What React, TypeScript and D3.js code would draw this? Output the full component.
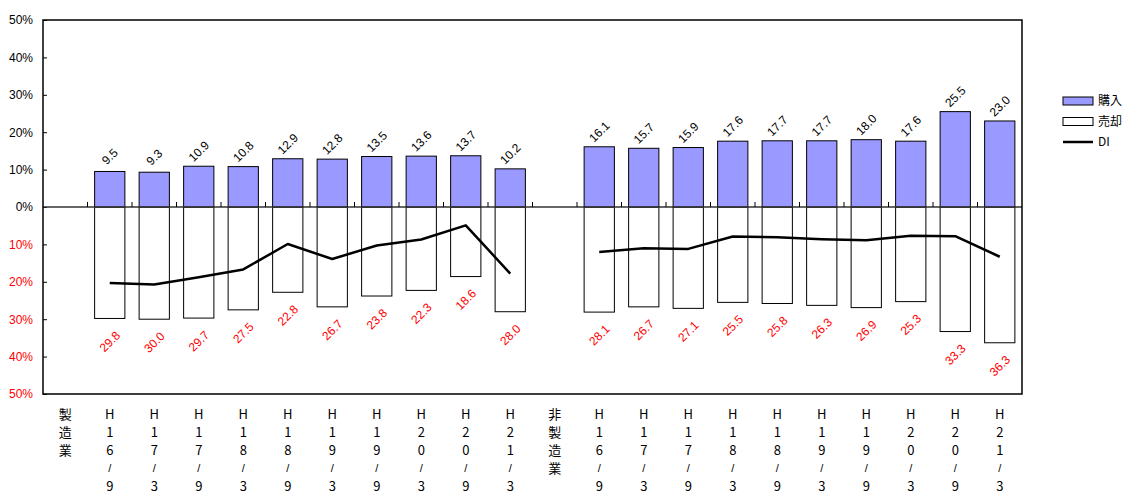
import React, { useEffect, useRef } from "react";
import * as d3 from "d3";

// 区分
const groups = ["製造業", "非製造業"];
const periods = ["H16/9", "H17/3", "H17/9", "H18/3", "H18/9", "H19/3", "H19/9", "H20/3", "H20/9", "H21/3"];

// 購入・売却・DI（％）
const buyMfg = [9.5, 9.3, 10.9, 10.8, 12.9, 12.8, 13.5, 13.6, 13.7, 10.2];
const sellMfg = [29.8, 30.0, 29.7, 27.5, 22.8, 26.7, 23.8, 22.3, 18.6, 28.0];
const diMfg = [-20.3, -20.7, -18.8, -16.7, -9.9, -13.9, -10.3, -8.7, -4.9, -17.8];
const buyNon = [16.1, 15.7, 15.9, 17.6, 17.7, 17.7, 18.0, 17.6, 25.5, 23.0];
const sellNon = [28.1, 26.7, 27.1, 25.5, 25.8, 26.3, 26.9, 25.3, 33.3, 36.3];
const diNon = [-12.0, -11.0, -11.2, -7.9, -8.1, -8.6, -8.9, -7.7, -7.8, -13.3];

const yTicks = [50, 40, 30, 20, 10, 0, -10, -20, -30, -40, -50];

const legendItems = ["購入", "売却", "DI"];

const seriesByGroup = [
  { buy: buyMfg, sell: sellMfg, di: diMfg },
  { buy: buyNon, sell: sellNon, di: diNon },
];

function App() {
  const svgRef = useRef(null);
  const width = 1128;
  const height = 495;
  const plot = { left: 43, right: 1022, top: 20, bottom: 394 };
  const font = "'Liberation Sans', Arial, sans-serif";
  const jpFont = "'Noto Sans CJK JP', sans-serif";

  useEffect(() => {
    const svg = d3.select(svgRef.current);
    svg.selectAll("*").remove();

    // slots: group label, then its periods
    const slots = [];
    groups.forEach((g, gi) => {
      slots.push({ key: g, label: g, group: gi, bar: -1 });
      periods.forEach((p, pi) => {
        slots.push({ key: `${g}-${p}`, label: p, group: gi, bar: pi });
      });
    });

    const x = d3
      .scaleBand()
      .domain(slots.map((s) => s.key))
      .range([plot.left, plot.right])
      .paddingInner(0.32)
      .paddingOuter(0.16);
    const y = d3.scaleLinear().domain([-50, 50]).range([plot.bottom, plot.top]);
    const cx = (key) => x(key) + x.bandwidth() / 2;

    // y axis
    const yAxis = svg
      .append("g")
      .attr("transform", `translate(${plot.left},0)`)
      .call(d3.axisLeft(y).tickValues(yTicks).tickSize(-4).tickPadding(10).tickFormat((d) => `${Math.abs(d)}%`));
    yAxis.select(".domain").remove();
    yAxis.selectAll("line").attr("stroke", "#000");
    yAxis
      .selectAll("text")
      .attr("font-family", font)
      .attr("font-size", 12)
      .attr("fill", (d) => (d < 0 ? "#FF0000" : "#000"));

    const bars = slots.filter((s) => s.bar >= 0);

    // 売却 bars (below zero)
    svg
      .append("g")
      .selectAll("rect")
      .data(bars)
      .join("rect")
      .attr("x", (s) => x(s.key))
      .attr("y", y(0))
      .attr("width", x.bandwidth())
      .attr("height", (s) => y(-seriesByGroup[s.group].sell[s.bar]) - y(0))
      .attr("fill", "#fff")
      .attr("stroke", "#000")
      .attr("stroke-width", 1);

    // 購入 bars
    svg
      .append("g")
      .selectAll("rect")
      .data(bars)
      .join("rect")
      .attr("x", (s) => x(s.key))
      .attr("y", (s) => y(seriesByGroup[s.group].buy[s.bar]))
      .attr("width", x.bandwidth())
      .attr("height", (s) => y(0) - y(seriesByGroup[s.group].buy[s.bar]))
      .attr("fill", "#9999FF")
      .attr("stroke", "#000")
      .attr("stroke-width", 1);

    // zero line + slot ticks
    svg
      .append("line")
      .attr("x1", plot.left)
      .attr("x2", plot.right)
      .attr("y1", y(0))
      .attr("y2", y(0))
      .attr("stroke", "#333")
      .attr("stroke-width", 1.5);
    svg
      .append("g")
      .selectAll("line")
      .data(slots.slice(1))
      .join("line")
      .attr("x1", (s) => x(s.key) - (x.step() * x.paddingInner()) / 2)
      .attr("x2", (s) => x(s.key) - (x.step() * x.paddingInner()) / 2)
      .attr("y1", y(0))
      .attr("y2", y(0) - 5)
      .attr("stroke", "#000");

    // DI lines
    const line = d3
      .line()
      .x((d) => d[0])
      .y((d) => d[1]);
    groups.forEach((g, gi) => {
      const pts = periods.map((p, pi) => [cx(`${g}-${p}`), y(seriesByGroup[gi].di[pi])]);
      svg
        .append("path")
        .attr("d", line(pts))
        .attr("fill", "none")
        .attr("stroke", "#000")
        .attr("stroke-width", 2.5)
        .attr("stroke-linejoin", "round");
    });

    // value labels
    const labels = svg.append("g").attr("font-family", font).attr("font-size", 12).attr("text-anchor", "middle");
    bars.forEach((s) => {
      const b = seriesByGroup[s.group].buy[s.bar];
      const sl = seriesByGroup[s.group].sell[s.bar];
      const px = cx(s.key);
      const pyTop = y(b) - 15;
      labels
        .append("text")
        .attr("transform", `translate(${px},${pyTop}) rotate(-45)`)
        .attr("dy", "0.35em")
        .attr("fill", "#000")
        .text(b.toFixed(1));
      const pyBot = y(-sl) + 23;
      labels
        .append("text")
        .attr("transform", `translate(${px},${pyBot}) rotate(-45)`)
        .attr("dy", "0.35em")
        .attr("fill", "#FF0000")
        .text(sl.toFixed(1));
    });

    // plot border
    svg
      .append("rect")
      .attr("x", plot.left)
      .attr("y", plot.top)
      .attr("width", plot.right - plot.left)
      .attr("height", plot.bottom - plot.top)
      .attr("fill", "none")
      .attr("stroke", "#000")
      .attr("stroke-width", 1.5);

    // category labels, one character per line
    const cat = svg.append("g").attr("font-family", jpFont).attr("font-size", 13).attr("text-anchor", "middle");
    slots.forEach((s) => {
      const chars = Array.from(s.label);
      chars.forEach((c, i) => {
        cat
          .append("text")
          .attr("x", cx(s.key))
          .attr("y", 414 + i * 18.1)
          .attr("dy", "0.35em")
          .attr("font-family", c === "/" ? font : jpFont)
          .attr("font-size", c === "/" ? 11 : 13)
          .attr("fill", "#000")
          .text(c);
      });
    });

    // legend
    const lg = svg.append("g").attr("font-family", jpFont).attr("font-size", 12);
    legendItems.forEach((name, i) => {
      const ly = 101 + i * 20.5;
      if (i < 2) {
        lg.append("rect")
          .attr("x", 1063)
          .attr("y", ly - 4)
          .attr("width", 30)
          .attr("height", 8)
          .attr("fill", i === 0 ? "#9999FF" : "#fff")
          .attr("stroke", "#000");
      } else {
        lg.append("line")
          .attr("x1", 1063)
          .attr("x2", 1093)
          .attr("y1", ly)
          .attr("y2", ly)
          .attr("stroke", "#000")
          .attr("stroke-width", 2.5);
      }
      lg.append("text")
        .attr("x", 1098)
        .attr("y", ly)
        .attr("dy", "0.35em")
        .attr("fill", "#000")
        .text(name);
    });
  }, []);

  return (
    <div style={{ position: "absolute", left: 0, top: 0, background: "#fff" }}>
      <svg ref={svgRef} width={width} height={height} style={{ display: "block" }} />
    </div>
  );
}

export default App;
